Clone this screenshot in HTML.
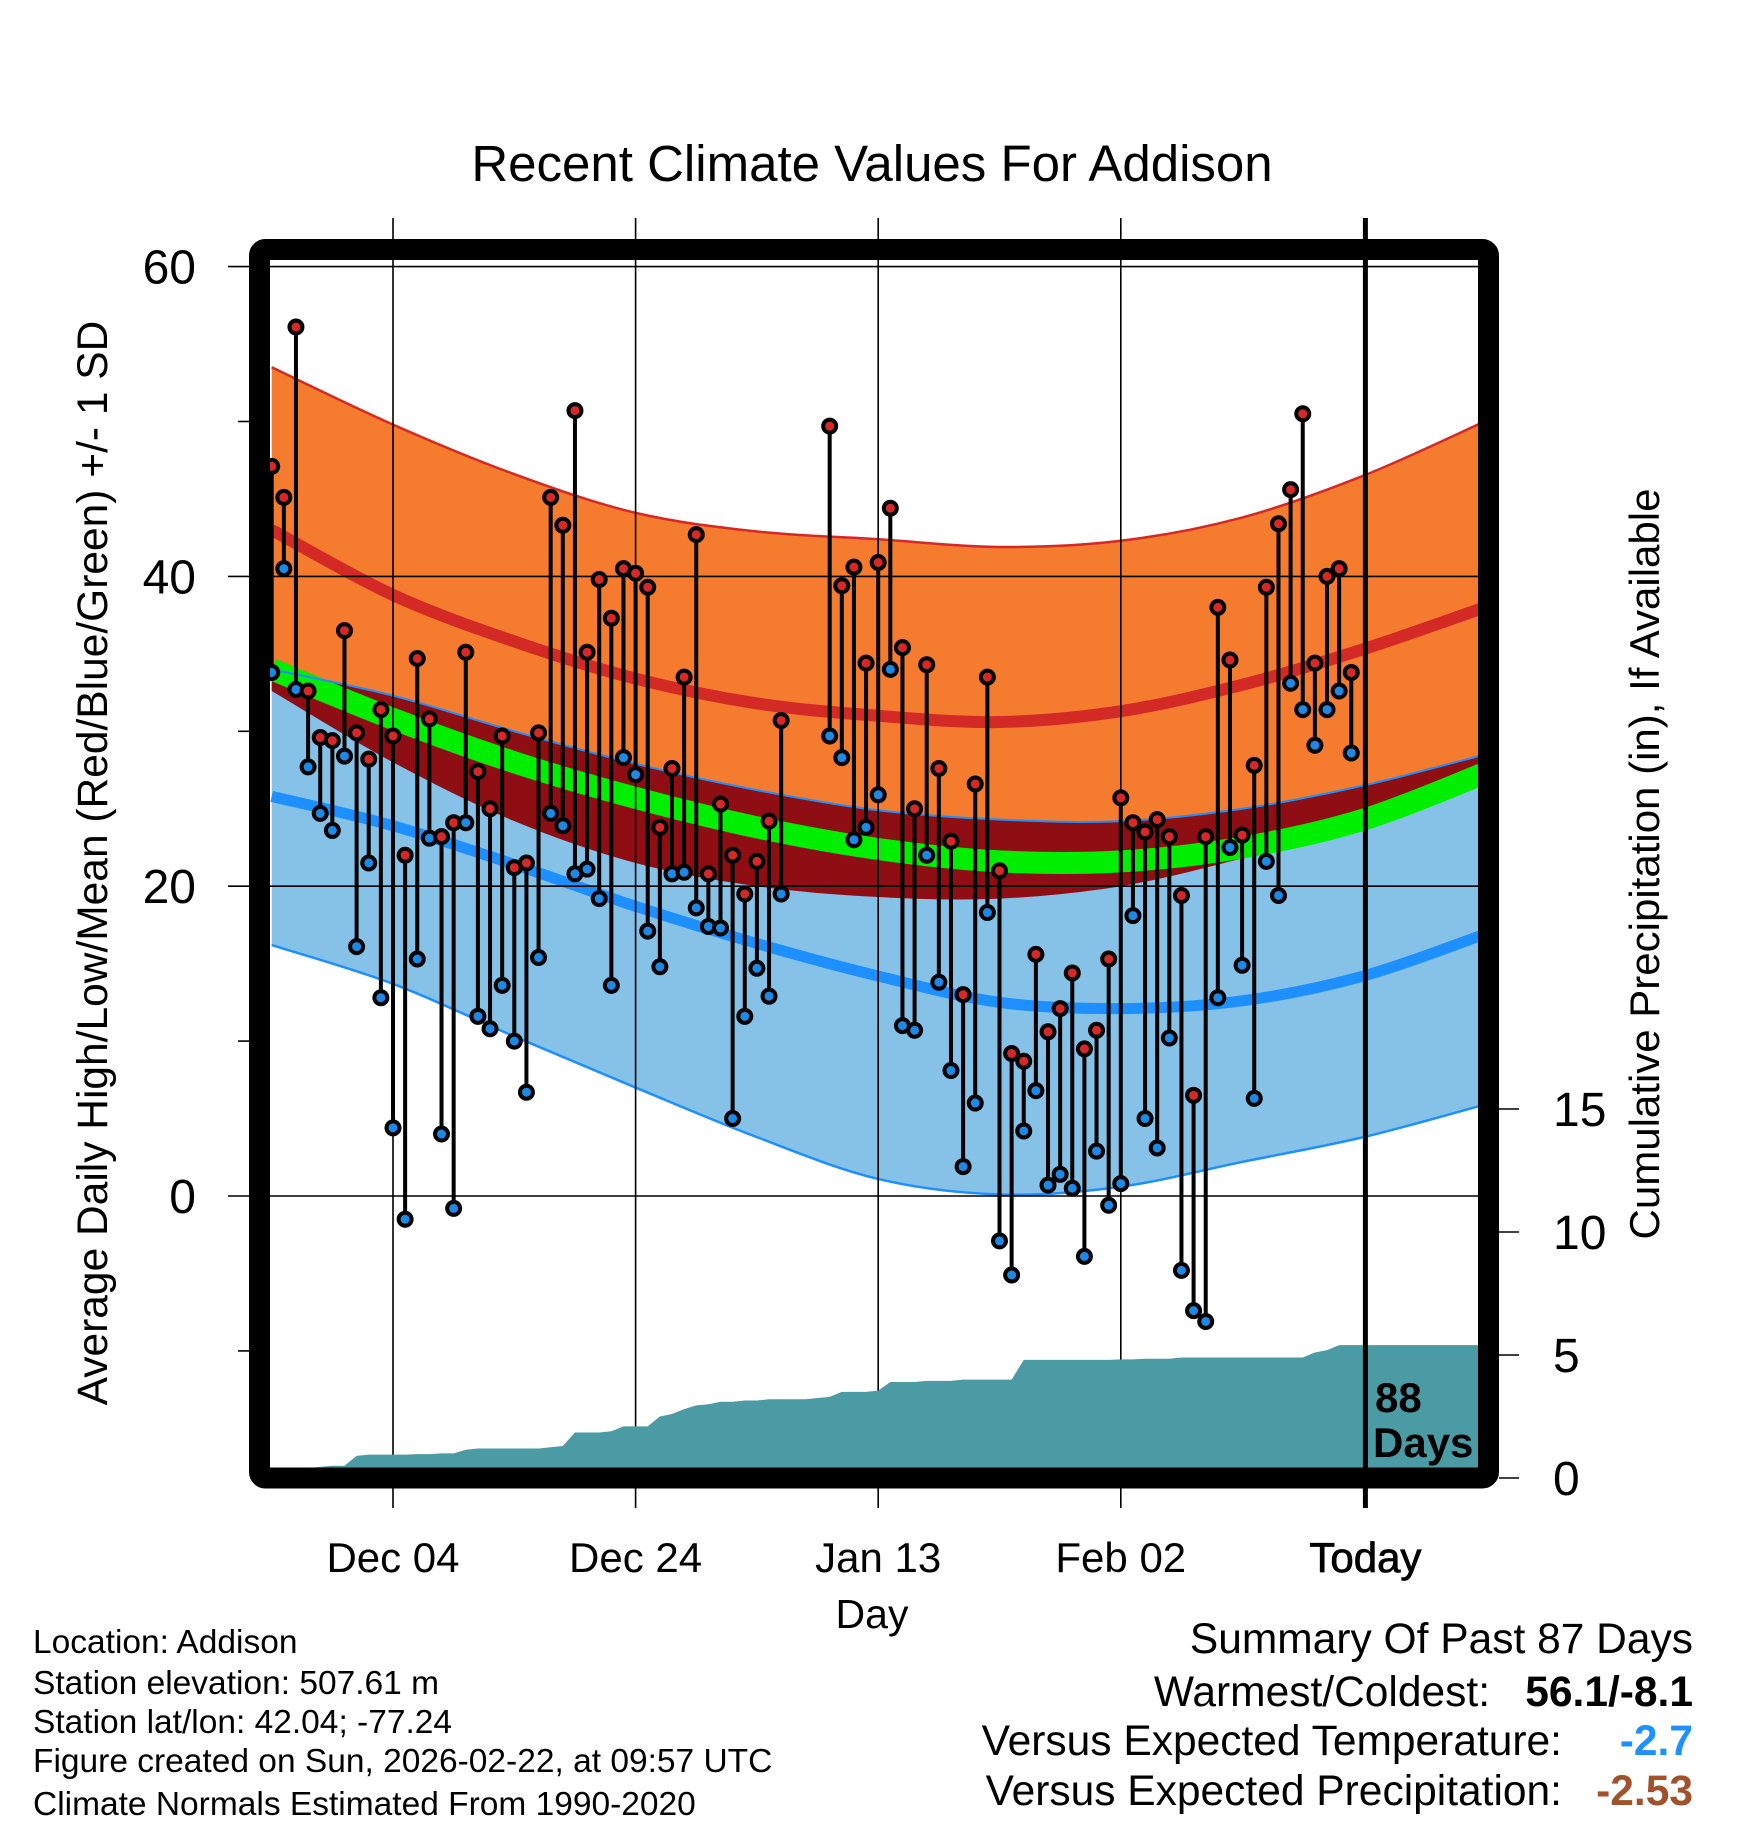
<!DOCTYPE html>
<html><head><meta charset="utf-8"><style>
html,body{margin:0;padding:0;background:#fff;}
svg{display:block;font-family:"Liberation Sans",sans-serif;}
</style></head><body>
<svg id="chart" width="1748" height="1828" viewBox="0 0 1748 1828" xmlns="http://www.w3.org/2000/svg">
<rect width="1748" height="1828" fill="#fff"/>
<text x="872" y="181" font-size="51" text-anchor="middle">Recent Climate Values For Addison</text>
<defs><clipPath id="plotclip"><rect x="270" y="260" width="1208" height="1208"/></clipPath></defs>
<g id="bands" clip-path="url(#plotclip)"></g>
<g id="grid"></g>
<g id="precip" clip-path="url(#plotclip)"></g>
<g id="today"></g>
<g id="marks" clip-path="url(#plotclip)"></g>
<rect x="259.5" y="249.5" width="1229" height="1228.5" rx="6" fill="none" stroke="#000" stroke-width="21"/>
<g id="axes"></g>
<text x="1375" y="1412" font-size="42" font-weight="bold">88</text>
<text x="1373" y="1457" font-size="42" font-weight="bold">Days</text>
<text transform="translate(107,863) rotate(-90)" font-size="42.5" text-anchor="middle">Average Daily High/Low/Mean (Red/Blue/Green) +/- 1 SD</text>
<text transform="translate(1659,864) rotate(-90)" font-size="42" text-anchor="middle">Cumulative Precipitation (in), If Available</text>
<text x="872" y="1628" font-size="41" text-anchor="middle">Day</text>
<g font-size="33.5">
<text x="33" y="1653">Location: Addison</text>
<text x="33" y="1694">Station elevation: 507.61 m</text>
<text x="33" y="1733">Station lat/lon: 42.04; -77.24</text>
<text x="33" y="1772">Figure created on Sun, 2026-02-22, at 09:57 UTC</text>
<text x="33" y="1815">Climate Normals Estimated From 1990-2020</text>
</g>
<g font-size="42.5">
<text x="1693" y="1653" text-anchor="end">Summary Of Past 87 Days</text>
<text x="1490" y="1706" text-anchor="end">Warmest/Coldest:</text>
<text x="1693" y="1706" text-anchor="end" font-weight="bold">56.1/-8.1</text>
<text x="1562" y="1755" text-anchor="end">Versus Expected Temperature:</text>
<text x="1693" y="1755" text-anchor="end" font-weight="bold" fill="#1e90ff">-2.7</text>
<text x="1562" y="1805" text-anchor="end">Versus Expected Precipitation:</text>
<text x="1693" y="1805" text-anchor="end" font-weight="bold" fill="#a0522d">-2.53</text>
</g>
</svg>
<script>
// ---- data ----
const highs = [47.1,45.1,56.1,32.6,29.6,29.4,36.5,29.9,28.2,31.4,29.7,22.0,34.7,30.8,23.2,24.1,35.1,27.4,25.0,29.7,21.2,21.5,29.9,45.1,43.3,50.7,35.1,39.8,37.3,40.5,40.2,39.3,23.8,27.6,33.5,42.7,20.8,25.3,22.0,19.5,21.6,24.2,30.7,null,null,null,49.7,39.4,40.6,34.4,40.9,44.4,35.4,25.0,34.3,27.6,22.9,13.0,26.6,33.5,21.0,9.2,8.7,15.6,10.6,12.1,14.4,9.5,10.7,15.3,25.7,24.1,23.5,24.3,23.2,19.4,6.5,23.2,38.0,34.6,23.3,27.8,39.3,43.4,45.6,50.5,34.4,40.0,40.5,33.8];
const lows = [33.8,40.5,32.7,27.7,24.7,23.6,28.4,16.1,21.5,12.8,4.4,-1.5,15.3,23.1,4.0,-0.8,24.1,11.6,10.8,13.6,10.0,6.7,15.4,24.7,23.9,20.8,21.1,19.2,13.6,28.3,27.2,17.1,14.8,20.8,20.9,18.6,17.4,17.3,5.0,11.6,14.7,12.9,19.5,null,null,null,29.7,28.3,23.0,23.8,25.9,34.0,11.0,10.7,22.0,13.8,8.1,1.9,6.0,18.3,-2.9,-5.1,4.2,6.8,0.7,1.4,0.5,-3.9,2.9,-0.6,0.8,18.1,5.0,3.1,10.2,-4.8,-7.4,-8.1,12.8,22.5,14.9,6.3,21.6,19.4,33.1,31.4,29.1,31.4,32.6,28.6];
const precipCum = [0,0,0,0.4,0.45,0.5,0.5,0.9,0.95,0.95,0.95,0.95,0.97,0.97,1.0,1.0,1.15,1.2,1.2,1.2,1.2,1.2,1.2,1.25,1.3,1.85,1.85,1.85,1.9,2.1,2.1,2.1,2.5,2.6,2.8,2.95,3.0,3.1,3.1,3.15,3.15,3.2,3.2,3.2,3.2,3.25,3.3,3.5,3.5,3.5,3.55,3.9,3.9,3.9,3.95,3.95,3.95,4.0,4.0,4.0,4.0,4.0,4.8,4.8,4.8,4.8,4.8,4.8,4.8,4.8,4.82,4.82,4.85,4.85,4.85,4.9,4.9,4.9,4.9,4.9,4.9,4.9,4.9,4.9,4.9,4.9,5.1,5.2,5.4,5.4];
const firstDay = -10; // days relative to Dec 04
const normDays = [-10,0,10,20,30,40,50,60,70,80,90];
const highTop  = [53.5,49.8,46.6,44.1,42.9,42.4,41.9,42.3,43.8,46.5,50.0];
const meanHigh = [43.0,38.8,35.8,33.4,31.8,31.0,30.6,31.3,33.0,35.3,38.0];
const highBot  = [32.6,28.0,24.2,21.5,20.0,19.3,19.2,20.0,21.8,24.0,26.6];
const meanTemp = [34.0,30.8,28.0,25.7,23.8,22.4,21.6,21.6,22.5,24.3,27.3];
const lowTop   = [34.0,32.3,30.0,27.9,26.2,24.9,24.3,24.2,25.0,26.5,28.5];
const meanLow  = [25.8,23.9,21.4,18.7,16.3,14.2,12.5,12.1,12.6,14.2,16.9];
const lowBot   = [16.2,13.7,10.3,7.0,3.8,1.1,0.1,0.6,2.2,3.8,5.9];
const tempTicks = [60,40,20,0];
const tempMinor = [50,30,10,-10];
const precipTicks = [0,5,10,15];
const dateTickDays = [0,20,40,60];
const dateTickLabels = ["Dec 04","Dec 24","Jan 13","Feb 02"];
const todayDay = 80;

// ---- scales ----
const X = d => 393 + d*12.13;
const Y = t => 1196 - t*15.49;
const P = p => 1478 - p*24.6;
const NS = "http://www.w3.org/2000/svg";
function mk(tag, attrs, parent){const e=document.createElementNS(NS,tag);for(const k in attrs)e.setAttribute(k,attrs[k]);parent.appendChild(e);return e;}
function pts(vals){return normDays.map((d,i)=>[X(d),Y(vals[i])]);}
function smooth(p){let s="";for(let i=0;i<p.length-1;i++){const p0=p[Math.max(i-1,0)],p1=p[i],p2=p[i+1],p3=p[Math.min(i+2,p.length-1)];
 const c1=[p1[0]+(p2[0]-p0[0])/6,p1[1]+(p2[1]-p0[1])/6],c2=[p2[0]-(p3[0]-p1[0])/6,p2[1]-(p3[1]-p1[1])/6];
 s+=` C${c1[0]},${c1[1]} ${c2[0]},${c2[1]} ${p2[0]},${p2[1]}`;}return s;}
function line(vals){const p=pts(vals);return `M${p[0][0]},${p[0][1]}`+smooth(p);}
function band(top,bot){const a=pts(top),b=pts(bot).reverse();return `M${a[0][0]},${a[0][1]}`+smooth(a)+` L${b[0][0]},${b[0][1]}`+smooth(b)+"Z";}

const bands=document.getElementById('bands');
let e;
e=mk('path',{d:band(highTop,highBot),fill:'#f57b2e'},bands);


e=mk('path',{d:band(lowTop,lowBot),fill:'#86c1e7'},bands);


e=mk('path',{d:band(lowTop,highBot),fill:'#8f0e14'},bands);


e=mk('path',{d:line(meanTemp),fill:'none',stroke:'#00ee00',"stroke-width":22},bands);


e=mk('path',{d:line(meanHigh),fill:'none',stroke:'#d42a26',"stroke-width":12},bands);


e=mk('path',{d:line(meanLow),fill:'none',stroke:'#1e8fff',"stroke-width":11},bands);


e=mk('path',{d:line(highTop),fill:'none',stroke:'#d42a26',"stroke-width":2.5},bands);


e=mk('path',{d:line(lowTop),fill:'none',stroke:'#1e8fff',"stroke-width":2},bands);


e=mk('path',{d:line(lowBot),fill:'none',stroke:'#1e8fff',"stroke-width":2.5},bands);



// precipitation area
const pr=document.getElementById('precip');
let d=`M${X(firstDay)},${P(0)}`;
precipCum.forEach((v,i)=>{d+=` L${X(firstDay+i)},${P(v)}`;});
d+=` L1480,${P(precipCum[precipCum.length-1])} L1480,${P(0)} Z`;
e=mk('path',{d:d,fill:'#4a9ba3'},pr);



// grid
const g=document.getElementById('grid');
tempTicks.forEach(t=>{
 e=mk('line',{x1:228,x2:1478,y1:Y(t),y2:Y(t),stroke:'#000','stroke-width':1.6},g);
 
 
});
tempMinor.forEach(t=>{
 e=mk('line',{x1:238,x2:250,y1:Y(t),y2:Y(t),stroke:'#000','stroke-width':1.6},g);
 
 
});
dateTickDays.forEach(dd=>{
 e=mk('line',{x1:X(dd),x2:X(dd),y1:218,y2:1508,stroke:'#000','stroke-width':1.6},g);
 
 
});
const td=document.getElementById('today');
e=mk('line',{x1:X(todayDay)+2,x2:X(todayDay)+2,y1:218,y2:1508,stroke:'#000','stroke-width':5},td);



// marks
const m=document.getElementById('marks');
highs.forEach((h,i)=>{
 const l=lows[i]; if(h==null||l==null) return;
 const x=X(firstDay+i);
 e=mk('line',{x1:x,x2:x,y1:Y(h),y2:Y(l),stroke:'#000','stroke-width':4},m);
 
 
});
highs.forEach((h,i)=>{
 const l=lows[i]; if(h==null||l==null) return;
 const x=X(firstDay+i);
 e=mk('circle',{cx:x,cy:Y(l),r:6.5,fill:'#1e88e5',stroke:'#000','stroke-width':4},m);
 
 
 e=mk('circle',{cx:x,cy:Y(h),r:6.5,fill:'#d62828',stroke:'#000','stroke-width':4},m);
 
 
});

// axes labels
const ax=document.getElementById('axes');
tempTicks.forEach(t=>{
 e=mk('text',{x:196,y:Y(t)+17,'font-size':48,'text-anchor':'end'},ax);
 e.textContent=t;
 
 
});
precipTicks.forEach(p=>{
 e=mk('line',{x1:1499,x2:1519,y1:P(p),y2:P(p),stroke:'#000','stroke-width':1.6},ax);
 
 
 e=mk('text',{x:1553,y:P(p)+17,'font-size':48},ax);
 e.textContent=p;
 
 
});
dateTickDays.forEach((dd,i)=>{
 e=mk('text',{x:X(dd),y:1572,'font-size':42,'text-anchor':'middle'},ax);
 e.textContent=dateTickLabels[i];
 
 
});
e=mk('text',{x:X(todayDay)+2,y:1572,'font-size':42,'text-anchor':'middle','stroke':'#000','stroke-width':0.8},ax);
e.textContent="Today";


</script>
</body></html>
